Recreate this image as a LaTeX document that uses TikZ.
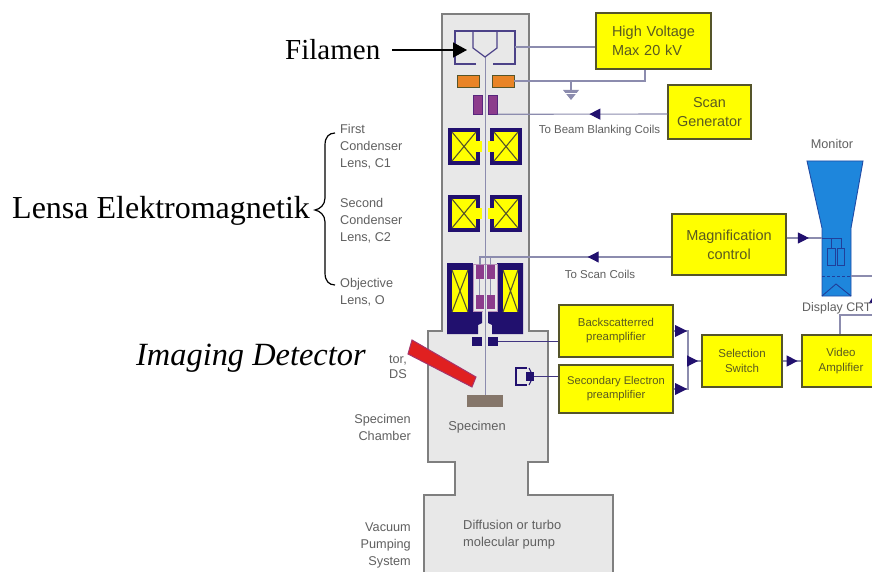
\documentclass[tikz,border=0pt]{standalone}
\usepackage{fontspec}
\setmainfont{Liberation Serif}
\newfontfamily\sansf{Liberation Sans}
\usetikzlibrary{arrows.meta,decorations.markings,calc}
\definecolor{navy}{HTML}{21106E}
\definecolor{boxy}{HTML}{FFFF00}
\definecolor{boxline}{HTML}{55552A}
\definecolor{colfill}{HTML}{E8E8E8}
\definecolor{colline}{HTML}{7F7F7F}
\definecolor{wire}{HTML}{8C8CAE}
\definecolor{orangeb}{HTML}{E98426}
\definecolor{purp}{HTML}{8C3C8C}
\definecolor{redd}{HTML}{E02020}
\definecolor{bluem}{HTML}{1E86DC}
\definecolor{brownb}{HTML}{85766A}
\definecolor{greytext}{HTML}{606060}
\definecolor{boxtext}{HTML}{5A5A20}
\tikzset{
  ybox/.style 2 args={draw=boxline,line width=1.3pt,fill=boxy,inner sep=0pt,align=center,text=boxtext,font=\sansf\fontsize{#1}{#2}\selectfont},
  lab/.style={text=greytext,inner sep=0pt,font=\sansf\fontsize{12.7}{17}\selectfont},
  blk/.style={text=black,inner sep=0pt,font=\fontsize{32}{36}\selectfont},
  wireline/.style={draw=wire,line width=1.1pt},
  midtri/.style={postaction={decorate},decoration={markings,mark=at position #1 with {\arrow[navy]{Triangle[length=11pt,width=11pt]}}}},
  navyb/.style={fill=navy,draw=none},
  coilx/.style={draw=boxline,line width=1.1pt},
}
\newcommand{\lensbox}[4]{% x1 y1 x2 y2
  \fill[navy] (#1,#2) rectangle (#3,#4);
  \fill[boxy] ({#1+4},{#2+4}) rectangle ({#3-4},{#4-4});
  \draw[coilx] ({#1+4},{#2+4}) -- ({#3-4},{#4-4}) ({#1+4},{#4-4}) -- ({#3-4},{#2+4});
}
\begin{document}
\begin{tikzpicture}[x=1pt,y=-1pt]
\useasboundingbox (0,0) rectangle (872,572);
\clip (0,0) rectangle (872,572);
\fill[white] (0,0) rectangle (872,572);
% vacuum envelope
\path[fill=colfill,draw=colline,line width=2pt]
 (442,14) -- (529,14) -- (529,331) -- (548,331) -- (548,462) -- (528,462) -- (528,495) -- (613,495)
 -- (613,580) -- (424,580) -- (424,495) -- (455,495) -- (455,462) -- (428,462) -- (428,331) -- (442,331) -- cycle;
% beam
\draw[wire,line width=1pt] (485,57) -- (485,395);
% filament
\draw[wireline,draw=navy!60!wire,line width=1.2pt] (476,64) -- (455,64) -- (455,31) -- (515,31) -- (515,64) -- (493,64);
\draw[wireline,draw=navy!60!wire,line width=1.2pt] (473,31) -- (473,48) -- (485,57) -- (497,48) -- (497,31);
% orange plates
\node[draw=boxline,fill=orangeb,line width=.9pt,minimum width=22pt,minimum height=12pt,inner sep=0pt] (ol) at (468,81) {};
\node[draw=boxline,fill=orangeb,line width=.9pt,minimum width=22pt,minimum height=12pt,inner sep=0pt] (or) at (503,81) {};
% blanking plates
\node[fill=purp,draw=navy!50!purp,line width=.6pt,minimum width=9pt,minimum height=19pt,inner sep=0pt] (bl) at (477.5,104.5) {};
\node[fill=purp,draw=navy!50!purp,line width=.6pt,minimum width=9pt,minimum height=19pt,inner sep=0pt] (br) at (493,104.5) {};
% condenser lenses
\lensbox{448}{128}{480}{165}
\lensbox{490}{128}{522}{165}
\lensbox{448}{195}{480}{232}
\lensbox{490}{195}{522}{232}
\fill[boxy] (475,141) rectangle (482,152);
\fill[boxy] (488,141) rectangle (495,152);
\fill[boxy] (475,208) rectangle (482,219);
\fill[boxy] (488,208) rectangle (495,219);
% objective lens
\fill[navy] (447,263) -- (523,263) -- (523,334) -- (492,334) -- (492,325) -- (488,323) -- (488,310) -- (482,310) -- (482,323) -- (478,325) -- (478,334) -- (447,334) -- cycle;
\fill[colfill] (473,263) rectangle (497,311);
\draw[draw=purp!50!colfill,line width=.8pt] (473,264) rectangle (497,311);
\draw[colfill,line width=5pt] (485,311) -- (485,334);
\draw[wire,line width=1pt] (485,257) -- (485,395);
\node[fill=purp,minimum width=8pt,minimum height=14pt,inner sep=0pt] (p1) at (479.5,272) {};
\node[fill=purp,minimum width=8pt,minimum height=14pt,inner sep=0pt] (p2) at (490.5,272) {};
\node[fill=purp,minimum width=8pt,minimum height=14pt,inner sep=0pt] (p3) at (479.5,302) {};
\node[fill=purp,minimum width=8pt,minimum height=14pt,inner sep=0pt] (p4) at (490.5,302) {};
\draw[wire,line width=.8pt] (479.5,279) -- (479.5,295) (490.5,279) -- (490.5,295);
\fill[boxy] (452,270) rectangle (468,312);
\fill[boxy] (503,270) rectangle (518,312);
\draw[coilx] (452,270) -- (468,312) (452,312) -- (468,270) (503,270) -- (518,312) (503,312) -- (518,270);
% backscatter detector
\node[navyb,minimum width=10pt,minimum height=9pt,inner sep=0pt] (bsl) at (477,341.5) {};
\node[navyb,minimum width=10pt,minimum height=9pt,inner sep=0pt] (bsr) at (493,341.5) {};
% secondary detector
\draw[navy,line width=1.1pt] (527,368) -- (516,368) -- (516,385) -- (527,385);
\draw[navy,line width=1.1pt] (529,368) -- (531,372) (529,385) -- (531,381);
\node[navyb,minimum width=8pt,minimum height=9pt,inner sep=0pt] (sed) at (530,376.5) {};
% specimen
\node[fill=brownb,minimum width=36pt,minimum height=12pt,inner sep=0pt] (spec) at (485,401) {};
% boxes
\node[ybox={14.5}{18.5},minimum width=115pt,minimum height=56pt,text width=95pt,align=left] (hv) at (653.5,41) {\hspace*{6pt}High Voltage\\\hspace*{6pt}Max 20 kV};
\node[ybox={14.4}{19},minimum width=83pt,minimum height=54pt] (sg) at (709.5,112) {Scan\\Generator};
\node[ybox={14.5}{19},minimum width=114pt,minimum height=61pt] (mag) at (729,244.5) {Magnification\\control};
\node[ybox={11.4}{14},minimum width=114pt,minimum height=52pt] (bs) at (616,331) {Backscatterred\\preamplifier};
\node[ybox={11.2}{14},minimum width=114pt,minimum height=48pt] (se) at (616,389) {Secondary Electron\\preamplifier};
\node[ybox={11.5}{15},minimum width=80pt,minimum height=52pt] (sw) at (742,361) {Selection\\Switch};
\node[ybox={11.5}{15},minimum width=78pt,minimum height=52pt] (va) at (841,361) {Video\\Amplifier};
% wires
\draw[wireline] (515,47) -- (hv.west |- 515,47);
\draw[wireline] (or.east) -- (645,81) -- (hv.south -| 645,0);
\draw[wireline] (571,81) -- (571,90);
\fill[wire] (563,90) -- (579,90) -- (571,100) -- cycle;
\draw[white,line width=.8pt] (565,93.5) -- (577,93.5);
\draw[wireline,midtri=0.46] (sg.west |- 0,114) -- (br.south east);
\node[lab,font=\sansf\fontsize{11.5}{14}\selectfont] (tbb) at (599.5,131) {To Beam Blanking Coils};
\draw[wireline,midtri=0.42] (mag.west |- 0,257) -- (480,257) -- (p1.north -| 480,0);
\draw[wireline] (490.5,257) -- (p2.north);
\node[lab,font=\sansf\fontsize{11.5}{14}\selectfont] (tsc) at (600,274) {To Scan Coils};
\draw[wireline,draw=navy!70!wire] (bsr.east) -- (bs.west |- bsr.east);
\draw[wireline,draw=navy!70!wire] (sed.east) -- (se.west |- sed.east);
% selection junction
\coordinate (ja) at (688,331);
\coordinate (jb) at (688,389);
\coordinate (jc) at (688,361);
\draw[wireline] (bs.east) -- (ja) -- (jb) -- (se.east);
\fill[navy] (675,325) -- (687,331) -- (675,337) -- cycle;
\fill[navy] (675,383) -- (687,389) -- (675,395) -- cycle;
\draw[wireline,midtri=0.75] (jc) -- (sw.west |- jc);
\draw[wireline,midtri=0.8] (sw.east) -- (va.west);
% monitor
\path[fill=bluem,draw=navy!50!bluem,line width=.9pt] (807,161) -- (863,161) -- (851,228) -- (851,296) -- (822,296) -- (822,228) -- cycle;
\draw[navy!60!bluem,line width=.9pt] (822,296) -- (836,284) -- (851,296);
\draw[navy!60!bluem,line width=.9pt] (827,248) rectangle (835,265) (837,248) rectangle (844,265);
\draw[navy!60!bluem,line width=.8pt] (831,248) -- (831,238) (841,248) -- (841,238) (822,238) -- (841,238);
\draw[navy!60!bluem,line width=1pt,densely dashed] (822,276) -- (851,276);
\draw[wireline] (851,276) -- (872,276);
\draw[wireline,midtri=0.63] (mag.east |- 0,238) -- (822,238);
\draw[wireline] (va.north -| 840,0) -- (840,315) -- (872,315);
\fill[navy] (869,303) -- (872,298) -- (872,303) -- cycle;
\node[lab,anchor=west,font=\sansf\fontsize{12.4}{15}\selectfont] (crt) at (802,308) {Display CRT};
\node[lab] (mon) at (832,144) {Monitor};
% chamber labels
\node[lab,align=left,anchor=north west] (c1) at (340,124) {First\\Condenser\\Lens, C1};
\node[lab,align=left,anchor=north west] (c2) at (340,198) {Second\\Condenser\\Lens, C2};
\node[lab,align=left,anchor=north west] (co) at (340,278) {Objective\\Lens, O};
\node[lab,align=right,anchor=north east] (sc) at (411,414) {Specimen\\Chamber};
\node[lab,align=right,anchor=north east] (vp) at (411,523) {Vacuum\\Pumping\\System};
\node[lab,align=right,anchor=north east,font=\sansf\fontsize{12.7}{15.5}\selectfont] (ds) at (407,355) {tor,\\DS};
\node[lab,font=\sansf\fontsize{12.9}{14}\selectfont] (sp) at (477,427) {Specimen};
\node[lab,align=left,anchor=west,font=\sansf\fontsize{12.9}{17}\selectfont] (pump) at (463,535) {Diffusion or turbo\\molecular pump};
% red detector
\path[fill=redd,draw=purp!70!redd,line width=1pt] (412,340) -- (476,377) -- (472,387) -- (408,354) -- cycle;
% overlaid text
\node[blk,font=\itshape\fontsize{32.4}{36}\selectfont,anchor=base west] (img) at (136,365) {Imaging Detector};
\node[blk,anchor=base west] (lens) at (12,218) {Lensa Elektromagnetik};
\node[blk,font=\fontsize{29}{32}\selectfont,anchor=base west] (fil) at (285,60) {Filamen};
\coordinate (brt) at (335,133);
\coordinate (brb) at (335,285);
\coordinate (brm) at (315,210);
\draw[black,line width=1.2pt] (brt) .. controls (329,133) and (325,137) .. (325,145) -- (325,198) .. controls (325,205) and (320,209) .. (brm) .. controls (320,211) and (325,215) .. (325,222) -- (325,273) .. controls (325,281) and (329,285) .. (brb);
\coordinate (arr) at (467,50);
\coordinate (arrs) at (392,50);
\draw[black,line width=1.3pt,-{Triangle[length=14pt,width=15pt]}] (arrs) -- (arr);
\end{tikzpicture}
\end{document}
